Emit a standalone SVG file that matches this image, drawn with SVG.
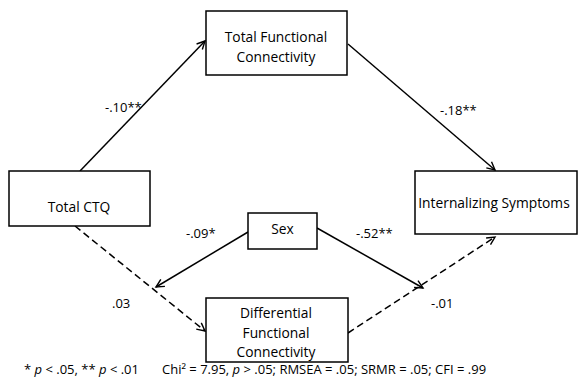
<svg xmlns="http://www.w3.org/2000/svg" width="578" height="389" viewBox="0 0 578 389">
<defs>
<style>
.box{fill:#fff;stroke:#000;stroke-width:1.5}
.t{font-family:"Open Sans","Liberation Sans",sans-serif;font-size:13.8px;fill:#000;text-anchor:middle}
.lab{font-family:"Open Sans","Liberation Sans",sans-serif;font-size:13px;fill:#000}
.ln{stroke:#000;stroke-width:1.5;fill:none;marker-end:url(#ah)}
.dash{stroke-dasharray:7,4}
.foot{font-family:"Open Sans","Liberation Sans",sans-serif;font-size:13px;fill:#000}
</style>
<marker id="ah" markerUnits="userSpaceOnUse" markerWidth="12" markerHeight="12" refX="9" refY="5" orient="auto">
<path d="M1,1 L9,5 L1,9" fill="none" stroke="#000" stroke-width="1.4"/>
</marker>
</defs>
<rect width="578" height="389" fill="#fff"/>
<g id="connectors">
<line class="ln" x1="80" y1="171" x2="205" y2="41"/>
<line class="ln" x1="348" y1="44" x2="495" y2="170"/>
<line class="ln dash" x1="75" y1="226" x2="205" y2="331"/>
<line class="ln dash" x1="348" y1="333" x2="495" y2="237"/>
<line class="ln" x1="248" y1="232" x2="156" y2="287"/>
<line class="ln" x1="317" y1="228" x2="423" y2="288"/>
</g>
<g id="node-tfc">
<rect class="box" x="206" y="11" width="141" height="64"/>
<text class="t" x="276" y="41.5">Total Functional</text>
<text class="t" x="276" y="61.5">Connectivity</text>
</g>
<g id="node-ctq">
<rect class="box" x="9" y="171" width="141" height="55"/>
<text class="t" x="79" y="211.5">Total CTQ</text>
</g>
<g id="node-int">
<rect class="box" x="415" y="171" width="162" height="63"/>
<text class="t" x="494" y="207.5">Internalizing Symptoms</text>
</g>
<g id="node-sex">
<rect class="box" x="248" y="213" width="69" height="36"/>
<text class="t" x="282.5" y="234">Sex</text>
</g>
<g id="node-diff">
<rect class="box" x="206" y="298" width="142" height="64"/>
<text class="t" x="276" y="318">Differential</text>
<text class="t" x="276" y="338">Functional</text>
<text class="t" x="276" y="356.5">Connectivity</text>
</g>
<g id="labels">
<text class="lab" x="105" y="112">-.10**</text>
<text class="lab" x="440" y="114.5">-.18**</text>
<text class="lab" x="186" y="238">-.09*</text>
<text class="lab" x="356" y="238">-.52**</text>
<text class="lab" x="112" y="308">.03</text>
<text class="lab" x="431" y="307.5">-.01</text>
</g>
<g id="footer">
<text class="foot" x="24" y="374">* <tspan font-style="italic">p</tspan> &lt; .05, ** <tspan font-style="italic">p</tspan> &lt; .01</text>
<text class="foot" x="162" y="374">Chi² = 7.95, <tspan font-style="italic">p</tspan> &gt; .05; RMSEA = .05; SRMR = .05; CFI = .99</text>
</g>
</svg>
